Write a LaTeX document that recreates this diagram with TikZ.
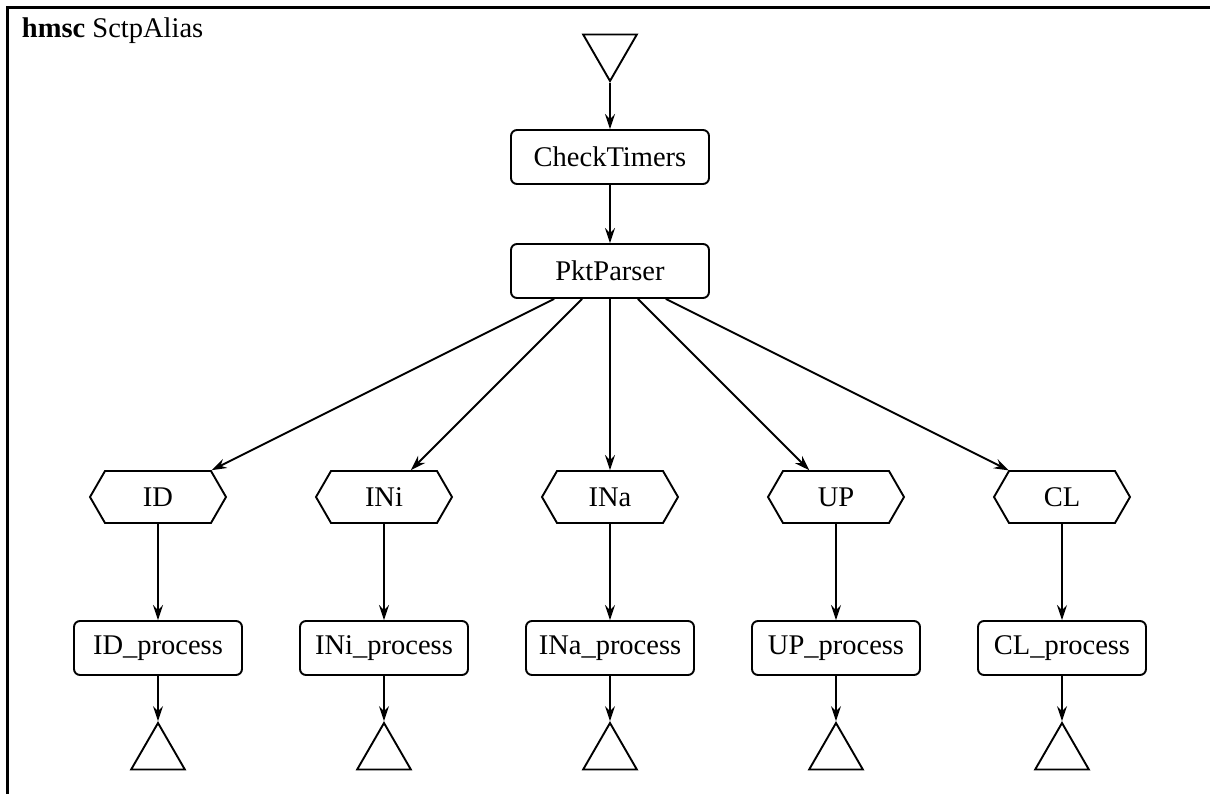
\documentclass[tikz,border=0pt]{standalone}
\usepackage{fontspec}
\setmainfont{Liberation Serif}
\usetikzlibrary{shapes.symbols,shapes.geometric,arrows.meta}
\begin{document}
\begin{tikzpicture}[x=1pt,y=-1pt,line width=1.9pt,
  every node/.style={font=\fontsize{28.5}{34}\selectfont},
  box/.style={draw,rounded corners=6pt,minimum height=54pt,inner sep=0pt},
  hexa/.style={draw,signal,signal to=west and east,signal pointer angle=120,
    minimum width=136pt,minimum height=52pt,inner sep=0pt},
  endtri/.style={draw,regular polygon,regular polygon sides=3,minimum size=62pt,inner sep=0pt},
  flow/.style={-{Stealth[length=15pt,width=10pt,inset=5pt]}}]
\useasboundingbox (0,0) rectangle (1210,794);

% frame and title
\draw[line width=2.4pt] (1210,7.5) -- (7.5,7.5) -- (7.5,794);
\node[anchor=base west,inner sep=0pt] (title) at (21,38) {\textbf{hmsc} SctpAlias};

% start, timer check and parser
\node[endtri,shape border rotate=180] (start) at (610,50) {};
\node[box,minimum width=198pt] (check) at (610,157) {CheckTimers};
\node[box,minimum width=198pt] (parser) at (610,271) {PktParser};
\draw[flow] (start) -- (check);
\draw[flow] (check) -- (parser);

% one branch per chunk type
\foreach \n/\x in {ID/158,INi/384,INa/610,UP/836,CL/1062}{
  \node[hexa] (\n) at (\x,497) {\n};
  \node[box,minimum width=168pt] (\n p) at (\x,648) {\n\_process};
  \node[endtri] (\n e) at (\x,754) {};
  \draw[flow] (parser) -- (\n);
  \draw[flow] (\n) -- (\n p);
  \draw[flow] (\n p) -- (\n e);
}
\end{tikzpicture}
\end{document}
